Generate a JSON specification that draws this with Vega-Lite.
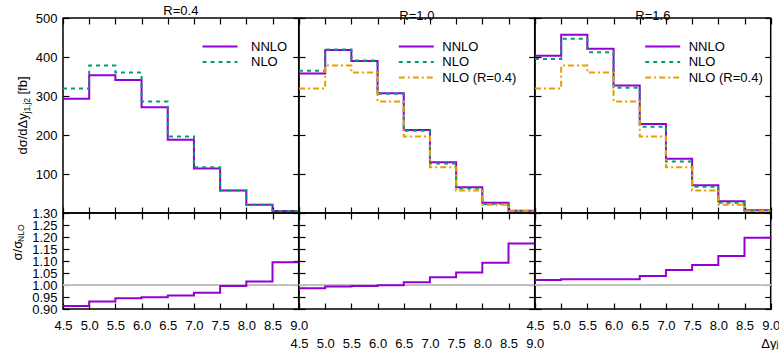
{
"$schema": "https://vega.github.io/schema/vega-lite/v6.json",
"padding": {"left": 10, "top": 4, "right": 0, "bottom": 0},
"datasets": {"d": [
{"R":"0.4","x":4.5,"NNLO":293,"NLO":319,"ratio":0.913},
{"R":"0.4","x":5.0,"NNLO":353,"NLO":378,"ratio":0.931},
{"R":"0.4","x":5.5,"NNLO":341,"NLO":360,"ratio":0.945},
{"R":"0.4","x":6.0,"NNLO":271,"NLO":286,"ratio":0.949},
{"R":"0.4","x":6.5,"NNLO":188,"NLO":196,"ratio":0.956},
{"R":"0.4","x":7.0,"NNLO":114,"NLO":117,"ratio":0.968},
{"R":"0.4","x":7.5,"NNLO":58,"NLO":58,"ratio":0.996},
{"R":"0.4","x":8.0,"NNLO":21,"NLO":21,"ratio":1.015},
{"R":"0.4","x":8.5,"NNLO":5,"NLO":5,"ratio":1.095},
{"R":"0.4","x":9.0,"NNLO":5,"NLO":5,"ratio":1.095},
{"R":"1.0","x":4.5,"NNLO":358,"NLO":365,"NLO04":319,"ratio":0.986},
{"R":"1.0","x":5.0,"NNLO":418,"NLO":419,"NLO04":378,"ratio":0.994},
{"R":"1.0","x":5.5,"NNLO":390,"NLO":391,"NLO04":360,"ratio":0.996},
{"R":"1.0","x":6.0,"NNLO":307,"NLO":306,"NLO04":286,"ratio":0.999},
{"R":"1.0","x":6.5,"NNLO":213,"NLO":211,"NLO04":196,"ratio":1.011},
{"R":"1.0","x":7.0,"NNLO":130,"NLO":127,"NLO04":117,"ratio":1.032},
{"R":"1.0","x":7.5,"NNLO":66,"NLO":63,"NLO04":58,"ratio":1.052},
{"R":"1.0","x":8.0,"NNLO":26,"NLO":23,"NLO04":21,"ratio":1.093},
{"R":"1.0","x":8.5,"NNLO":6,"NLO":5,"NLO04":5,"ratio":1.173},
{"R":"1.0","x":9.0,"NNLO":6,"NLO":5,"NLO04":5,"ratio":1.173},
{"R":"1.6","x":4.5,"NNLO":403,"NLO":395,"NLO04":319,"ratio":1.021},
{"R":"1.6","x":5.0,"NNLO":457,"NLO":447,"NLO04":378,"ratio":1.024},
{"R":"1.6","x":5.5,"NNLO":421,"NLO":412,"NLO04":360,"ratio":1.024},
{"R":"1.6","x":6.0,"NNLO":327,"NLO":321,"NLO04":286,"ratio":1.024},
{"R":"1.6","x":6.5,"NNLO":228,"NLO":221,"NLO04":196,"ratio":1.037},
{"R":"1.6","x":7.0,"NNLO":139,"NLO":132,"NLO04":117,"ratio":1.062},
{"R":"1.6","x":7.5,"NNLO":71,"NLO":67,"NLO04":58,"ratio":1.083},
{"R":"1.6","x":8.0,"NNLO":30,"NLO":26,"NLO04":21,"ratio":1.121},
{"R":"1.6","x":8.5,"NNLO":7,"NLO":6,"NLO04":5,"ratio":1.197},
{"R":"1.6","x":9.0,"NNLO":7,"NLO":6,"NLO04":5,"ratio":1.197}
]},
"data": {"name": "d"},
"config": {
 "font": "Liberation Sans",
 "view": {"stroke": "black", "strokeWidth": 1.5},
 "axis": {"domain": false, "grid": false, "tickColor": "black", "tickWidth": 1.2, "tickSize": -6, "labelFontSize": 13, "labelColor": "black", "labelFont": "Liberation Sans", "labelFlush": false, "labelOverlap": false, "titleFont": "Liberation Sans", "titleFontSize": 13, "titleFontWeight": "normal", "titleColor": "black"},
 "axisX": {"labelPadding": 16.5},
 "axisY": {"labelPadding": 12},
 "title": {"fontSize": 13, "fontWeight": "normal", "font": "Liberation Sans", "offset": -6, "frame": "group", "color": "black"},
 "legend": {"labelFont": "Liberation Sans", "labelFontSize": 13, "labelColor": "black"}
},
"columns": 3,
"spacing": 0,
"bounds": "flush",
"resolve": {"scale": {"x": "independent", "y": "independent", "color": "independent", "strokeDash": "independent"}, "axis": {"x": "independent", "y": "independent"}, "legend": {"color": "independent", "strokeDash": "independent"}},
"concat": [
  {"width": 235.7, "height": 195, "title": {"text": "R=0.4"},
   "transform": [{"filter": "datum.R == '0.4'"}, {"fold": ["NNLO", "NLO"], "as": ["series", "val"]}],
   "layer": [
    {"mark": {"type": "line", "interpolate": "step-after", "strokeWidth": 2},
     "encoding": {
      "x": {"field": "x", "type": "quantitative", "scale": {"domain": [4.5, 9], "nice": false, "zero": false}, "axis": {"orient": "bottom", "labels": false, "title": null, "values": [4.5,5,5.5,6,6.5,7,7.5,8,8.5,9]}},
      "y": {"field": "val", "type": "quantitative", "scale": {"domain": [0, 500], "nice": false}, "axis": {"orient": "left", "values": [100,200,300,400,500], "title": "dσ/dΔy", "titleAngle": 270, "titleAlign": "left", "titleBaseline": "alphabetic", "titleX": -37, "titleY": 136}},
      "color": {"field": "series", "type": "nominal", "scale": {"domain": ["NNLO", "NLO"], "range": ["#9400d3", "#009e73"]}, "legend": {"orient": "none", "legendX": 150.5, "legendY": 22, "title": null, "symbolType": "M-17.5,0H17.5", "symbolSize": 4, "symbolStrokeWidth": 2, "labelOffset": 24.5, "rowPadding": 1.5, "padding": 0}},
      "strokeDash": {"field": "series", "type": "nominal", "scale": {"domain": ["NNLO", "NLO"], "range": [[1, 0], [4, 4]]}, "legend": {"orient": "none", "legendX": 150.5, "legendY": 22, "title": null, "symbolType": "M-17.5,0H17.5", "symbolSize": 4, "symbolStrokeWidth": 2, "labelOffset": 24.5, "rowPadding": 1.5, "padding": 0}}
     }},
    {"mark": {"type": "point", "opacity": 0},
     "encoding": {
      "x": {"field": "x", "type": "quantitative", "scale": {"domain": [4.5, 9], "nice": false, "zero": false}, "axis": {"orient": "top", "labels": false, "title": null, "values": [4.5,5,5.5,6,6.5,7,7.5,8,8.5,9]}},
      "y": {"field": "val", "type": "quantitative", "scale": {"domain": [0, 500], "nice": false}, "axis": {"orient": "right", "labels": false, "title": null, "values": [100,200,300,400,500]}}
     }},
    {"mark": {"type": "point", "opacity": 0},
     "encoding": {
      "x": {"field": "x", "type": "quantitative", "scale": {"domain": [4.5, 9], "nice": false, "zero": false}, "axis": null},
      "y": {"field": "val", "type": "quantitative", "scale": {"domain": [0, 500], "nice": false}, "axis": {"orient": "left", "labels": false, "ticks": false, "title": "j1,j2", "titleFontSize": 8.5, "titleAngle": 270, "titleAlign": "left", "titleBaseline": "alphabetic", "titleX": -34, "titleY": 95}}
     }},
    {"mark": {"type": "point", "opacity": 0},
     "encoding": {
      "x": {"field": "x", "type": "quantitative", "scale": {"domain": [4.5, 9], "nice": false, "zero": false}, "axis": null},
      "y": {"field": "val", "type": "quantitative", "scale": {"domain": [0, 500], "nice": false}, "axis": {"orient": "left", "labels": false, "ticks": false, "title": "[fb]", "titleAngle": 270, "titleAlign": "left", "titleBaseline": "alphabetic", "titleX": -37, "titleY": 76}}
     }}
   ],
   "resolve": {"axis": {"x": "independent", "y": "independent"}}
  },
  {"width": 235.7, "height": 195, "title": {"text": "R=1.0"},
   "transform": [{"filter": "datum.R == '1.0'"}, {"fold": ["NNLO", "NLO", "NLO04"], "as": ["series", "val"]}],
   "layer": [
    {"mark": {"type": "line", "interpolate": "step-after", "strokeWidth": 2},
     "encoding": {
      "x": {"field": "x", "type": "quantitative", "scale": {"domain": [4.5, 9], "nice": false, "zero": false}, "axis": {"orient": "bottom", "labels": false, "title": null, "values": [4.5,5,5.5,6,6.5,7,7.5,8,8.5,9]}},
      "y": {"field": "val", "type": "quantitative", "scale": {"domain": [0, 500], "nice": false}, "axis": {"orient": "left", "labels": false, "title": null, "values": [100,200,300,400,500]}},
      "color": {"field": "series", "type": "nominal", "scale": {"domain": ["NNLO", "NLO", "NLO04"], "range": ["#9400d3", "#009e73", "#e69f00"]}, "legend": {"orient": "none", "legendX": 110.8, "legendY": 22, "title": null, "symbolType": "M-17.5,0H17.5", "symbolSize": 4, "symbolStrokeWidth": 2, "labelOffset": 19.5, "rowPadding": 1.5, "padding": 0, "labelExpr": "datum.label == 'NLO04' ? 'NLO (R=0.4)' : datum.label"}},
      "strokeDash": {"field": "series", "type": "nominal", "scale": {"domain": ["NNLO", "NLO", "NLO04"], "range": [[1, 0], [4, 4], [6, 3, 2, 3]]}, "legend": {"orient": "none", "legendX": 110.8, "legendY": 22, "title": null, "symbolType": "M-17.5,0H17.5", "symbolSize": 4, "symbolStrokeWidth": 2, "labelOffset": 19.5, "rowPadding": 1.5, "padding": 0, "labelExpr": "datum.label == 'NLO04' ? 'NLO (R=0.4)' : datum.label"}}
     }},
    {"mark": {"type": "point", "opacity": 0},
     "encoding": {
      "x": {"field": "x", "type": "quantitative", "scale": {"domain": [4.5, 9], "nice": false, "zero": false}, "axis": {"orient": "top", "labels": false, "title": null, "values": [4.5,5,5.5,6,6.5,7,7.5,8,8.5,9]}},
      "y": {"field": "val", "type": "quantitative", "scale": {"domain": [0, 500], "nice": false}, "axis": {"orient": "right", "labels": false, "title": null, "values": [100,200,300,400,500]}}
     }}
   ],
   "resolve": {"axis": {"x": "independent", "y": "independent"}}
  },
  {"width": 235.7, "height": 195, "title": {"text": "R=1.6"},
   "transform": [{"filter": "datum.R == '1.6'"}, {"fold": ["NNLO", "NLO", "NLO04"], "as": ["series", "val"]}],
   "layer": [
    {"mark": {"type": "line", "interpolate": "step-after", "strokeWidth": 2},
     "encoding": {
      "x": {"field": "x", "type": "quantitative", "scale": {"domain": [4.5, 9], "nice": false, "zero": false}, "axis": {"orient": "bottom", "labels": false, "title": null, "values": [4.5,5,5.5,6,6.5,7,7.5,8,8.5,9]}},
      "y": {"field": "val", "type": "quantitative", "scale": {"domain": [0, 500], "nice": false}, "axis": {"orient": "left", "labels": false, "title": null, "values": [100,200,300,400,500]}},
      "color": {"field": "series", "type": "nominal", "scale": {"domain": ["NNLO", "NLO", "NLO04"], "range": ["#9400d3", "#009e73", "#e69f00"]}, "legend": {"orient": "none", "legendX": 121.2, "legendY": 22, "title": null, "symbolType": "M-17.5,0H17.5", "symbolSize": 4, "symbolStrokeWidth": 2, "labelOffset": 19.5, "rowPadding": 1.5, "padding": 0, "labelExpr": "datum.label == 'NLO04' ? 'NLO (R=0.4)' : datum.label"}},
      "strokeDash": {"field": "series", "type": "nominal", "scale": {"domain": ["NNLO", "NLO", "NLO04"], "range": [[1, 0], [4, 4], [6, 3, 2, 3]]}, "legend": {"orient": "none", "legendX": 121.2, "legendY": 22, "title": null, "symbolType": "M-17.5,0H17.5", "symbolSize": 4, "symbolStrokeWidth": 2, "labelOffset": 19.5, "rowPadding": 1.5, "padding": 0, "labelExpr": "datum.label == 'NLO04' ? 'NLO (R=0.4)' : datum.label"}}
     }},
    {"mark": {"type": "point", "opacity": 0},
     "encoding": {
      "x": {"field": "x", "type": "quantitative", "scale": {"domain": [4.5, 9], "nice": false, "zero": false}, "axis": {"orient": "top", "labels": false, "title": null, "values": [4.5,5,5.5,6,6.5,7,7.5,8,8.5,9]}},
      "y": {"field": "val", "type": "quantitative", "scale": {"domain": [0, 500], "nice": false}, "axis": {"orient": "right", "labels": false, "title": null, "values": [100,200,300,400,500]}}
     }}
   ],
   "resolve": {"axis": {"x": "independent", "y": "independent"}}
  },
  {"width": 235.7, "height": 96,
   "transform": [{"filter": "datum.R == '0.4'"}],
   "layer": [
    {"mark": {"type": "rule", "color": "#c0c0c0", "strokeWidth": 1},
     "encoding": {"y": {"datum": 1, "type": "quantitative", "scale": {"domain": [0.9, 1.3], "nice": false, "zero": false}, "axis": null}}},
    {"mark": {"type": "line", "interpolate": "step-after", "strokeWidth": 2, "color": "#9400d3"},
     "encoding": {
      "x": {"field": "x", "type": "quantitative", "scale": {"domain": [4.5, 9], "nice": false, "zero": false}, "axis": {"orient": "bottom", "title": null, "format": ".1f", "values": [4.5,5,5.5,6,6.5,7,7.5,8,8.5,9]}},
      "y": {"field": "ratio", "type": "quantitative", "scale": {"domain": [0.9, 1.3], "nice": false, "zero": false}, "axis": {"orient": "left", "format": ".2f", "values": [0.9,0.95,1,1.05,1.1,1.15,1.2,1.25,1.3], "title": "σ/σ", "titleAngle": 270, "titleAlign": "left", "titleBaseline": "alphabetic", "titleX": -41.5, "titleY": 47}}
     }},
    {"mark": {"type": "point", "opacity": 0},
     "encoding": {
      "x": {"field": "x", "type": "quantitative", "scale": {"domain": [4.5, 9], "nice": false, "zero": false}, "axis": {"orient": "top", "labels": false, "title": null, "values": [4.5,5,5.5,6,6.5,7,7.5,8,8.5,9]}},
      "y": {"field": "ratio", "type": "quantitative", "scale": {"domain": [0.9, 1.3], "nice": false, "zero": false}, "axis": {"orient": "right", "labels": false, "title": null, "values": [0.9,0.95,1,1.05,1.1,1.15,1.2,1.25,1.3]}}
     }},
    {"mark": {"type": "point", "opacity": 0},
     "encoding": {
      "x": {"field": "x", "type": "quantitative", "scale": {"domain": [4.5, 9], "nice": false, "zero": false}, "axis": null},
      "y": {"field": "ratio", "type": "quantitative", "scale": {"domain": [0.9, 1.3], "nice": false, "zero": false}, "axis": {"orient": "left", "labels": false, "ticks": false, "title": "NLO", "titleFontSize": 8.5, "titleAngle": 270, "titleAlign": "left", "titleBaseline": "alphabetic", "titleX": -39.5, "titleY": 28.4}}
     }}
   ],
   "resolve": {"axis": {"x": "independent", "y": "independent"}}
  },
  {"width": 235.7, "height": 96,
   "transform": [{"filter": "datum.R == '1.0'"}],
   "layer": [
    {"mark": {"type": "rule", "color": "#c0c0c0", "strokeWidth": 1},
     "encoding": {"y": {"datum": 1, "type": "quantitative", "scale": {"domain": [0.9, 1.3], "nice": false, "zero": false}, "axis": null}}},
    {"mark": {"type": "line", "interpolate": "step-after", "strokeWidth": 2, "color": "#9400d3"},
     "encoding": {
      "x": {"field": "x", "type": "quantitative", "scale": {"domain": [4.5, 9], "nice": false, "zero": false}, "axis": {"orient": "bottom", "title": null, "format": ".1f", "labelPadding": 34.5, "values": [4.5,5,5.5,6,6.5,7,7.5,8,8.5,9]}},
      "y": {"field": "ratio", "type": "quantitative", "scale": {"domain": [0.9, 1.3], "nice": false, "zero": false}, "axis": {"orient": "left", "labels": false, "title": null, "values": [0.9,0.95,1,1.05,1.1,1.15,1.2,1.25,1.3]}}
     }},
    {"mark": {"type": "point", "opacity": 0},
     "encoding": {
      "x": {"field": "x", "type": "quantitative", "scale": {"domain": [4.5, 9], "nice": false, "zero": false}, "axis": {"orient": "top", "labels": false, "title": null, "values": [4.5,5,5.5,6,6.5,7,7.5,8,8.5,9]}},
      "y": {"field": "ratio", "type": "quantitative", "scale": {"domain": [0.9, 1.3], "nice": false, "zero": false}, "axis": {"orient": "right", "labels": false, "title": null, "values": [0.9,0.95,1,1.05,1.1,1.15,1.2,1.25,1.3]}}
     }}
   ],
   "resolve": {"axis": {"x": "independent", "y": "independent"}}
  },
  {"width": 235.7, "height": 96,
   "transform": [{"filter": "datum.R == '1.6'"}],
   "layer": [
    {"mark": {"type": "rule", "color": "#c0c0c0", "strokeWidth": 1},
     "encoding": {"y": {"datum": 1, "type": "quantitative", "scale": {"domain": [0.9, 1.3], "nice": false, "zero": false}, "axis": null}}},
    {"mark": {"type": "line", "interpolate": "step-after", "strokeWidth": 2, "color": "#9400d3"},
     "encoding": {
      "x": {"field": "x", "type": "quantitative", "scale": {"domain": [4.5, 9], "nice": false, "zero": false}, "axis": {"orient": "bottom", "format": ".1f", "values": [4.5,5,5.5,6,6.5,7,7.5,8,8.5,9], "title": "Δy", "titleAlign": "left", "titleBaseline": "alphabetic", "titleAngle": 0, "titleX": 225.7, "titleY": 38}},
      "y": {"field": "ratio", "type": "quantitative", "scale": {"domain": [0.9, 1.3], "nice": false, "zero": false}, "axis": {"orient": "left", "labels": false, "title": null, "values": [0.9,0.95,1,1.05,1.1,1.15,1.2,1.25,1.3]}}
     }},
    {"mark": {"type": "point", "opacity": 0},
     "encoding": {
      "x": {"field": "x", "type": "quantitative", "scale": {"domain": [4.5, 9], "nice": false, "zero": false}, "axis": {"orient": "top", "labels": false, "title": null, "values": [4.5,5,5.5,6,6.5,7,7.5,8,8.5,9]}},
      "y": {"field": "ratio", "type": "quantitative", "scale": {"domain": [0.9, 1.3], "nice": false, "zero": false}, "axis": {"orient": "right", "labels": false, "title": null, "values": [0.9,0.95,1,1.05,1.1,1.15,1.2,1.25,1.3]}}
     }},
    {"mark": {"type": "point", "opacity": 0},
     "encoding": {
      "x": {"field": "x", "type": "quantitative", "scale": {"domain": [4.5, 9], "nice": false, "zero": false}, "axis": {"orient": "bottom", "labels": false, "ticks": false, "title": "j1,j2", "titleFontSize": 8.5, "titleAlign": "left", "titleBaseline": "alphabetic", "titleAngle": 0, "titleX": 241, "titleY": 37}},
      "y": {"field": "ratio", "type": "quantitative", "scale": {"domain": [0.9, 1.3], "nice": false, "zero": false}, "axis": null}
     }}
   ],
   "resolve": {"axis": {"x": "independent", "y": "independent"}}
  }
]
}
